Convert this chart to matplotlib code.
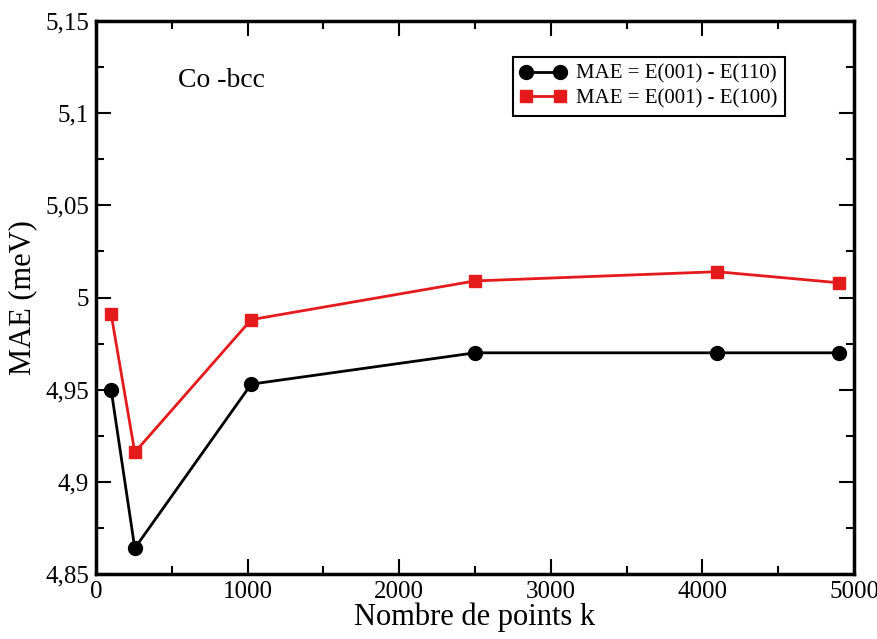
import numpy as np
import matplotlib
matplotlib.use('Agg')
import matplotlib.pyplot as plt
from matplotlib.ticker import MultipleLocator, FuncFormatter

# k-point convergence data
kpoints = [100, 256, 1024, 2500, 4096, 4900]
mae_110 = [4.950, 4.864, 4.953, 4.970, 4.970, 4.970]
mae_100 = [4.991, 4.916, 4.988, 5.009, 5.014, 5.008]

label_110 = 'MAE = E(001) - E(110)'
label_100 = 'MAE = E(001) - E(100)'

plt.rcParams['font.family'] = ['Liberation Serif', 'DejaVu Serif']


def comma_fmt(v, pos):
    s = ('%.2f' % v).rstrip('0').rstrip('.')
    return s.replace('.', ',')


fig = plt.figure(figsize=(8.78, 6.39), dpi=100)
ax = fig.add_axes([0.1093, 0.1017, 0.8634, 0.8654])

ax.plot(kpoints, mae_110, color='black', lw=2, marker='o', ms=10,
        label=label_110, zorder=3)
ax.plot(kpoints, mae_100, color='#e41a1c', lw=2, marker='s', ms=9,
        label=label_100, zorder=3)

ax.set_xlim(0, 5000)
ax.set_ylim(4.85, 5.15)
ax.xaxis.set_major_locator(MultipleLocator(1000))
ax.xaxis.set_minor_locator(MultipleLocator(500))
ax.yaxis.set_major_locator(MultipleLocator(0.05))
ax.yaxis.set_minor_locator(MultipleLocator(0.025))
ax.yaxis.set_major_formatter(FuncFormatter(comma_fmt))

ax.tick_params(which='both', direction='in', top=True, right=True,
               labelsize=18, width=1.5, colors='black')
ax.tick_params(which='major', length=11, pad=5)
ax.tick_params(which='minor', length=6)
for sp in ax.spines.values():
    sp.set_linewidth(2.5)

ax.set_xlabel('Nombre de points k', fontsize=22, labelpad=0)
ax.set_ylabel('MAE (meV)', fontsize=22, labelpad=6)

ax.text(0.108, 0.893, 'Co -bcc', transform=ax.transAxes, fontsize=20,
        va='center', ha='left')

leg = ax.legend(loc='upper left', bbox_to_anchor=(0.55, 0.935), fontsize=15,
                numpoints=2, handlelength=2.2, handletextpad=0.5,
                borderpad=0.35, labelspacing=0.25, fancybox=False,
                framealpha=1, borderaxespad=0)
leg.get_frame().set_edgecolor('black')
leg.get_frame().set_linewidth(1.5)

fig.savefig('out.png', dpi=100)
